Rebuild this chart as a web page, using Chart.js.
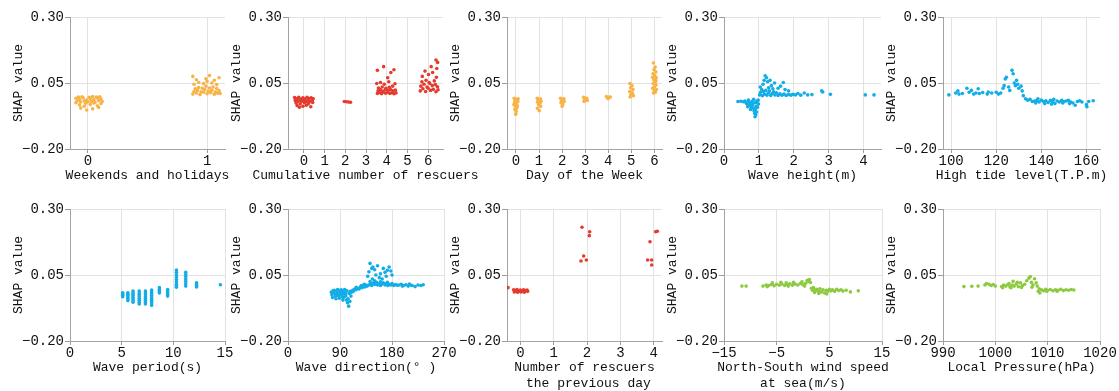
<!DOCTYPE html>
<html lang="en">
<head>
<meta charset="UTF-8">
<title>SHAP dependence plots</title>
<script src="https://cdn.jsdelivr.net/npm/chart.js"></script>
<style>
  body { margin: 0; background: #fff; }
  #wrap { position: relative; width: 1119px; height: 391px; overflow: hidden; }
  #wrap canvas { position: absolute; }
</style>
</head>
<body>
<div id="wrap"></div>
<script>
// points as [feature value, SHAP value]
const weekendPts = [
  [-0.10,-0.008],[-0.07,-0.012],[-0.04,-0.006],[-0.01,-0.015],[0.02,-0.009],[0.05,-0.013],[0.08,-0.007],[0.11,-0.011],
  [-0.09,-0.018],[-0.06,-0.022],[-0.03,-0.017],[0.00,-0.021],[0.03,-0.019],[0.06,-0.023],[0.09,-0.016],[0.12,-0.020],
  [-0.08,-0.003],[-0.05,-0.002],[0.01,-0.004],[0.04,-0.001],[0.07,-0.003],[0.10,-0.002],
  [-0.10,-0.025],[-0.02,-0.027],[0.05,-0.026],[0.11,-0.028],
  [-0.07,-0.033],[-0.03,-0.038],[0.02,-0.031],[0.08,-0.036],[-0.06,-0.045],[0.04,-0.048],[-0.01,-0.052],[0.09,-0.043],
  [0.88,0.008],[0.91,0.012],[0.94,0.006],[0.97,0.015],[1.00,0.009],[1.03,0.013],[1.06,0.007],[1.09,0.011],[1.11,0.010],
  [0.89,0.018],[0.92,0.022],[0.95,0.017],[0.98,0.025],[1.01,0.019],[1.04,0.023],[1.07,0.016],[1.10,0.021],
  [0.90,0.028],[0.93,0.033],[0.96,0.030],[0.99,0.038],[1.02,0.031],[1.05,0.035],[1.08,0.029],
  [0.89,0.045],[0.93,0.052],[0.97,0.048],[1.00,0.056],[1.04,0.050],[1.08,0.044],[0.91,0.062],[0.99,0.066],
  [1.06,0.060],[0.88,0.075],[1.02,0.078],[1.10,0.070]
];
const cumRescuePts = [
  [-0.45,-0.005],[-0.35,-0.010],[-0.25,-0.004],[-0.15,-0.012],[-0.05,-0.006],[0.05,-0.011],[0.15,-0.004],[0.25,-0.009],[0.35,-0.006],[0.45,-0.010],
  [-0.42,-0.016],[-0.30,-0.020],[-0.20,-0.015],[-0.10,-0.019],[0.00,-0.016],[0.10,-0.021],[0.20,-0.015],[0.30,-0.019],[0.40,-0.017],
  [-0.38,-0.026],[-0.18,-0.029],[0.02,-0.025],[0.22,-0.028],[0.42,-0.024],
  [-0.33,-0.035],[-0.05,-0.038],[0.12,-0.034],[0.33,-0.040],[-0.22,-0.042],
  [1.95,-0.020],[2.05,-0.021],[2.15,-0.022],[2.25,-0.023],
  [3.55,0.010],[3.65,0.014],[3.75,0.009],[3.85,0.016],[3.95,0.011],[4.05,0.015],[4.15,0.010],[4.25,0.013],[4.35,0.009],[4.45,0.012],
  [3.58,0.020],[3.70,0.024],[3.82,0.019],[3.94,0.026],[4.06,0.021],[4.18,0.025],[4.30,0.020],[4.42,0.023],
  [3.60,0.031],[3.78,0.035],[3.96,0.030],[4.12,0.034],[4.28,0.038],
  [3.52,0.048],[3.70,0.052],[3.88,0.045],[4.10,0.055],[4.40,0.047],
  [3.55,0.098],[3.85,0.112],[4.20,0.090],[4.35,0.100],[4.05,0.070],
  [5.62,0.020],[5.75,0.028],[5.88,0.018],[6.00,0.030],[6.12,0.022],[6.25,0.026],[6.38,0.017],[6.48,0.024],
  [5.65,0.038],[5.80,0.045],[5.95,0.035],[6.08,0.048],[6.20,0.040],[6.35,0.044],[6.45,0.036],
  [5.70,0.055],[5.90,0.060],[6.05,0.052],[6.30,0.058],
  [5.72,0.075],[6.02,0.082],[6.22,0.090],[6.40,0.072],[5.85,0.095],[6.42,0.105],[6.15,0.112],[6.46,0.128],[6.38,0.137]
];
const dayPts = [
  [-0.08,-0.008],[0.05,-0.012],[-0.03,-0.016],[0.08,-0.020],[-0.06,-0.024],[0.02,-0.028],[-0.09,-0.032],[0.06,-0.036],
  [-0.02,-0.040],[0.04,-0.045],[-0.05,-0.050],[0.01,-0.058],[-0.01,-0.068],[0.09,-0.010],[-0.04,-0.018],
  [0.92,-0.008],[1.06,-0.011],[0.96,-0.015],[1.09,-0.019],[0.94,-0.023],[1.03,-0.027],[0.98,-0.032],[1.07,-0.038],
  [0.93,-0.046],[1.01,-0.055],[1.05,-0.012],
  [1.93,-0.008],[2.06,-0.012],[1.97,-0.016],[2.09,-0.020],[1.95,-0.025],[2.03,-0.030],[2.00,-0.038],[2.07,-0.010],
  [2.93,-0.004],[3.06,-0.008],[2.97,-0.012],[3.09,-0.016],[2.95,-0.020],[3.03,-0.010],
  [3.92,-0.001],[4.04,-0.004],[3.97,-0.007],[4.09,-0.003],[4.00,-0.009],
  [4.94,0.048],[5.03,0.040],[4.97,0.032],[5.07,0.025],[4.93,0.018],[5.05,0.012],[4.98,0.006],[5.09,0.002],[4.95,-0.003],[5.02,0.010],
  [5.96,0.126],[6.03,0.110],[5.98,0.100],[6.06,0.092],[5.94,0.085],[6.02,0.078],[6.08,0.070],[5.97,0.062],[6.05,0.055],
  [5.95,0.048],[6.07,0.042],[6.00,0.036],[5.93,0.030],[6.09,0.025],[5.99,0.020],[6.04,0.015],[5.96,0.012],[6.06,0.060],[5.92,0.072]
];
const waveHeightPts = [
  [0.40,-0.020],[0.48,-0.019],[0.55,-0.021],[0.60,-0.018],[0.63,-0.025],[0.66,-0.030],[0.70,-0.022],[0.72,-0.035],
  [0.75,-0.028],[0.78,-0.040],[0.80,-0.020],[0.82,-0.032],[0.84,-0.045],[0.86,-0.055],[0.88,-0.065],[0.89,-0.078],
  [0.90,-0.050],[0.92,-0.038],[0.93,-0.060],[0.95,-0.025],[0.96,-0.042],[0.98,-0.015],[0.99,-0.030],[0.70,-0.015],
  [0.85,-0.012],[0.94,-0.018],[0.88,-0.025],[0.76,-0.050],[0.68,-0.040],[0.91,-0.070],
  [1.02,0.005],[1.05,0.015],[1.08,0.025],[1.10,0.002],[1.13,0.018],[1.16,0.008],[1.20,0.022],[1.23,0.004],[1.27,0.012],
  [1.30,0.020],[1.34,0.003],[1.38,0.010],[1.42,0.017],[1.46,0.005],[1.50,0.013],[1.55,0.003],[1.60,0.009],[1.66,0.004],
  [1.72,0.008],[1.78,0.003],[1.85,0.006],[1.92,0.004],[1.98,0.007],
  [1.04,0.035],[1.12,0.045],[1.18,0.077],[1.22,0.070],[1.25,0.055],[1.32,0.060],[1.36,0.040],[1.45,0.050],[1.55,0.030],
  [1.62,0.038],[1.70,0.052],[1.75,0.025],[1.85,0.020],[1.28,0.032],[1.40,0.028],[1.15,0.060],
  [2.05,0.005],[2.12,0.010],[2.20,0.004],[2.30,0.012],[2.40,0.005],[2.52,0.006],[2.80,0.020],[2.83,0.016],[3.05,0.007],
  [4.05,0.005],[4.30,0.005]
];
const tidePts = [
  [99,0.005],[102,0.012],[103,0.020],[103.5,0.008],[105,0.010],[107,0.030],[108,0.015],[109,0.022],[110,0.008],[111,0.012],
  [112,0.028],[112.5,0.010],[114,0.014],[116,0.008],[116.5,0.016],[118,0.012],[120,0.015],[121,0.008],[122,0.012],[123,0.030],
  [123.5,0.040],[124,0.065],[124.5,0.072],[125.5,0.035],[126,0.022],[127,0.098],[127.5,0.085],[128,0.050],[128.5,0.040],
  [129,0.060],[129.5,0.045],[130,0.030],[131,0.038],[131.5,0.020],[132,0.002],[133,-0.010],[134,-0.015],[135,-0.012],
  [136,-0.020],[137,-0.018],[138,-0.016],[139,-0.022],[140,-0.015],[141,-0.020],[142,-0.017],[143,-0.024],[144,-0.016],
  [145,-0.020],[146,-0.028],[147,-0.018],[148,-0.022],[149,-0.016],[150,-0.020],[151,-0.018],[152,-0.016],[153,-0.022],
  [154,-0.026],[155,-0.034],[156,-0.020],[157,-0.017],[158,-0.022],[160,-0.032],[160.2,-0.040],[161,-0.020],[163,-0.017],
  [137.5,-0.026],[141.5,-0.028],[145.5,-0.012],[149.5,-0.026],[152.5,-0.028],[138.5,-0.010],[144.5,-0.030]
];
const periodPts = [
  [5.1,-0.017],[5.1,-0.022],[5.1,-0.027],[5.1,-0.032],
  [5.6,-0.017],[5.6,-0.023],[5.6,-0.029],[5.6,-0.035],[5.6,-0.041],[5.6,-0.047],
  [6.1,-0.011],[6.1,-0.017],[6.1,-0.023],[6.1,-0.029],[6.1,-0.035],[6.1,-0.041],[6.1,-0.047],[6.1,-0.053],
  [6.7,-0.011],[6.7,-0.018],[6.7,-0.025],[6.7,-0.032],[6.7,-0.039],[6.7,-0.046],[6.7,-0.053],[6.7,-0.060],
  [7.3,-0.011],[7.3,-0.018],[7.3,-0.025],[7.3,-0.032],[7.3,-0.039],[7.3,-0.046],[7.3,-0.053],[7.3,-0.060],
  [7.9,-0.007],[7.9,-0.014],[7.9,-0.021],[7.9,-0.028],[7.9,-0.035],[7.9,-0.042],[7.9,-0.049],[7.9,-0.056],[7.9,-0.065],
  [8.65,0.002],[8.65,-0.005],[8.65,-0.012],[8.65,-0.018],
  [9.45,-0.005],[9.45,-0.011],[9.45,-0.017],[9.45,-0.024],[9.45,-0.030],
  [10.3,0.069],[10.3,0.060],[10.3,0.051],[10.3,0.042],[10.3,0.033],[10.3,0.024],[10.3,0.015],[10.3,0.008],[10.3,0.004],
  [11.2,0.060],[11.2,0.052],[11.2,0.044],[11.2,0.035],[11.2,0.026],[11.2,0.017],[11.2,0.008],
  [12.25,0.020],[12.25,0.014],[12.25,0.008],[12.25,0.005],
  [14.55,0.013]
];
const directionPts = [
  [75,-0.015],[76,-0.025],[78,-0.010],[80,-0.020],[82,-0.030],[84,-0.012],[85,-0.022],[87,-0.018],[88,-0.028],[90,-0.010],
  [91,-0.024],[93,-0.016],[94,-0.032],[96,-0.012],[97,-0.022],[99,-0.018],[100,-0.030],[101,-0.045],[103,-0.055],[104,-0.040],
  [105,-0.068],[106,-0.020],[108,-0.012],[109,-0.030],[77,-0.035],[80,-0.008],[83,-0.040],[86,-0.005],[89,-0.038],[92,-0.006],
  [95,-0.045],[98,-0.005],[102,-0.010],[107,-0.050],[110,-0.015],[79,-0.017],[86,-0.027],[93,-0.024],[96,-0.035],[100,-0.020],
  [112,-0.008],[115,-0.004],[118,-0.006],[120,0.000],[123,-0.003],[125,0.004],[128,0.002],[130,0.008],[133,0.005],[135,0.012],
  [137,0.008],[113,-0.012],[118,0.003],[127,0.010],[132,0.015],
  [140,0.012],[143,0.018],[145,0.010],[148,0.020],[150,0.014],[153,0.022],[155,0.012],[158,0.018],[160,0.010],[163,0.016],
  [165,0.020],[168,0.012],[170,0.018],[173,0.010],[175,0.015],[178,0.012],[180,0.018],[183,0.010],[186,0.014],[189,0.011],
  [142,0.025],[150,0.028],[160,0.024],[172,0.022],
  [138,0.045],[140,0.062],[142,0.094],[145,0.075],[147,0.080],[150,0.070],[152,0.050],[155,0.085],[158,0.040],[160,0.055],
  [165,0.075],[168,0.060],[172,0.068],[175,0.080],[178,0.065],[180,0.050],[146,0.035],[163,0.035],[170,0.045],
  [192,0.012],[196,0.015],[200,0.010],[204,0.013],[208,0.008],[212,0.012],[215,0.010],[220,0.006],[225,0.012],[230,0.010],
  [234,0.013],[198,0.008],[210,0.016]
];
const prevDayPts = [
  [-0.37,0.002],
  [-0.20,-0.006],[-0.15,-0.010],[-0.10,-0.005],[-0.05,-0.012],[0.00,-0.007],[0.05,-0.011],[0.10,-0.006],[0.15,-0.010],
  [0.20,-0.007],[-0.18,-0.014],[-0.08,-0.015],[0.02,-0.014],[0.12,-0.015],[0.22,-0.012],
  [1.85,0.231],[2.08,0.214],[2.07,0.199],[1.90,0.122],[1.98,0.107],[1.82,0.103],
  [4.06,0.214],[4.11,0.216],[3.89,0.176],[3.82,0.107],[3.94,0.107],[3.94,0.088]
];
const windPts = [
  [-11.6,0.008],[-10.8,0.008],[-7.6,0.008],[-7.0,0.012],[-6.5,0.010],[-6.0,0.014],[-5.5,0.009],[-5.0,0.015],[-4.5,0.011],
  [-4.0,0.016],[-3.5,0.010],[-3.0,0.014],[-2.5,0.017],[-2.0,0.011],[-1.5,0.016],[-1.0,0.012],[-0.5,0.018],[0.0,0.013],
  [0.5,0.019],[0.8,0.030],[1.0,0.026],[1.2,0.033],[1.4,0.022],[-5.8,0.020],[-4.2,0.022],[-2.8,0.008],[-1.8,0.022],
  [-0.2,0.024],[-6.8,0.006],[-3.2,0.020],[0.3,0.008],
  [1.6,0.000],[1.8,-0.008],[2.0,0.002],[2.3,-0.010],[2.6,-0.004],[2.9,-0.012],[3.2,-0.002],[3.5,-0.014],[3.8,-0.006],
  [4.1,-0.018],[4.4,-0.008],[4.7,-0.012],[5.0,-0.004],[5.3,-0.010],[5.6,-0.006],[6.0,-0.012],[6.4,-0.004],[6.8,-0.009],
  [7.2,-0.006],[7.6,-0.011],[8.2,-0.008],[9.0,-0.014],[10.5,-0.010],[3.0,-0.020],[4.5,-0.022],[2.2,-0.016]
];
const pressurePts = [
  [994,0.006],[995.5,0.007],[996.7,0.008],[998,0.012],[998.3,0.018],[998.8,0.015],[999.2,0.010],[999.6,0.014],[1000,0.008],
  [1001.2,0.006],[1001.6,0.012],[1002,0.008],[1002.4,0.014],[1002.8,0.005],[1003.2,0.012],[1003.4,0.026],[1003.6,0.008],
  [1004,0.016],[1004.4,0.006],[1004.8,0.020],[1005.2,0.010],[1005.6,0.015],[1006,0.028],[1006.4,0.038],[1006.7,0.044],
  [1006.9,0.022],[1007.2,0.012],[1007.5,0.036],[1007.8,0.020],[1008,0.008],[1008.2,-0.012],[1008.5,-0.018],[1008.8,-0.006],
  [1009.2,-0.010],[1009.6,-0.004],[1010,-0.008],[1010.5,-0.005],[1011,-0.010],[1011.5,-0.006],[1012,-0.008],[1012.5,-0.004],
  [1013,-0.009],[1013.5,-0.006],[1014,-0.008],[1014.5,-0.005],[1015,-0.007],[1001.4,0.002],[1003,0.002],[1005,0.003],
  [1007,0.004],[1004.2,0.022],[1002.6,0.018],[1008.4,-0.002],[1009.8,-0.012],[1011.8,-0.012]
];

const ORANGE = '#f8b347';
const RED = '#e43b2f';
const BLUE = '#12ade6';
const GREEN = '#8dca42';
const TEXT = '#111';
const FONT_FAMILY = '"Liberation Mono", "DejaVu Sans Mono", monospace';

const panels = [
  { pts: weekendPts, color: ORANGE, title: ['Weekends and holidays'], min: -0.15, max: 1.15, step: 1, axisX: 70, plotW: 155, row: 0 },
  { pts: cumRescuePts, color: RED, title: ['Cumulative number of rescuers'], min: -0.77, max: 6.72, step: 1, axisX: 288, plotW: 155, row: 0 },
  { pts: dayPts, color: ORANGE, title: ['Day of the Week'], min: -0.39, max: 6.33, step: 1, axisX: 507, plotW: 155, row: 0 },
  { pts: waveHeightPts, color: BLUE, title: ['Wave height(m)'], min: 0, max: 4.5, step: 1, axisX: 724, plotW: 157, row: 0 },
  { pts: tidePts, color: BLUE, title: ['High tide level(T.P.m)'], min: 96.4, max: 166, step: 20, axisX: 943, plotW: 157, row: 0 },
  { pts: periodPts, color: BLUE, title: ['Wave period(s)'], min: 0, max: 15, step: 5, axisX: 70, plotW: 155, row: 1 },
  { pts: directionPts, color: BLUE, title: ['Wave direction(\u00b0 )'], min: 0, max: 270, step: 90, axisX: 288, plotW: 156, row: 1 },
  { pts: prevDayPts, color: RED, title: ['Number of rescuers', ' the previous day'], min: -0.4, max: 4.25, step: 1, axisX: 507, plotW: 155, row: 1 },
  { pts: windPts, color: GREEN, title: ['North-South wind speed', 'at sea(m/s)'], min: -15, max: 15, step: 10, axisX: 724, plotW: 158, row: 1 },
  { pts: pressurePts, color: GREEN, title: ['Local Pressure(hPa)'], min: 990, max: 1020, step: 10, axisX: 943, plotW: 157, row: 1 }
];

// row layout: canvas top, canvas height, x-axis box height
const rows = [
  { top: 7, height: 177, xH: 35 },
  { top: 199, height: 192, xH: 50 }
];

const Y_W = 68;
const PAD_R = 44;

function minusFmt(v, digits) {
  const s = digits == null ? String(Math.abs(v)) : Math.abs(v).toFixed(digits);
  return (v < 0 ? '\u2212' : '') + s;
}

// x-axis title drawn without the scale's maxWidth squeeze
const xTitlePlugin = {
  id: 'xTitle',
  afterDraw(chart, args, opts) {
    const { ctx, chartArea } = chart;
    ctx.save();
    ctx.font = '13px ' + FONT_FAMILY;
    ctx.fillStyle = TEXT;
    ctx.textAlign = 'center';
    ctx.textBaseline = 'middle';
    const cx = (chartArea.left + chartArea.right) / 2;
    opts.lines.forEach((t, i) => ctx.fillText(t, cx, chartArea.bottom + 27 + i * 16));
    ctx.restore();
  }
};

const wrap = document.getElementById('wrap');
const tickFont = { family: FONT_FAMILY, size: 14 };
const titleFont = { family: FONT_FAMILY, size: 13 };

panels.forEach(p => {
  const r = rows[p.row];
  const canvas = document.createElement('canvas');
  canvas.width = Y_W + p.plotW + PAD_R;
  canvas.height = r.height;
  canvas.style.left = (p.axisX - Y_W) + 'px';
  canvas.style.top = r.top + 'px';
  wrap.appendChild(canvas);

  new Chart(canvas, {
    type: 'scatter',
    data: {
      datasets: [{
        data: p.pts.map(([x, y]) => ({ x, y })),
        pointBackgroundColor: p.color,
        pointBorderWidth: 0,
        pointRadius: 1.8
      }]
    },
    options: {
      responsive: false,
      animation: false,
      events: [],
      layout: { padding: { top: 10, right: PAD_R, left: 0, bottom: 0 } },
      plugins: {
        legend: { display: false },
        tooltip: { enabled: false },
        xTitle: { lines: p.title }
      },
      scales: {
        x: {
          type: 'linear',
          min: p.min,
          max: p.max,
          afterFit: s => { s.height = r.xH; },
          ticks: {
            stepSize: p.step,
            includeBounds: false,
            autoSkip: false,
            maxRotation: 0,
            padding: 0,
            color: TEXT,
            font: tickFont,
            callback: v => minusFmt(v)
          },
          grid: { color: '#e2e2e2', tickColor: '#9c9c9c', tickLength: 4 },
          border: { color: '#a3a3a3' }
        },
        y: {
          min: -0.2,
          max: 0.3,
          afterFit: s => { s.width = Y_W; },
          ticks: {
            stepSize: 0.25,
            padding: 1,
            color: TEXT,
            font: tickFont,
            callback: v => minusFmt(v, 2)
          },
          grid: { color: '#e2e2e2', tickColor: '#9c9c9c', tickLength: 5 },
          border: { color: '#a3a3a3' },
          title: {
            display: true,
            text: 'SHAP value',
            color: TEXT,
            font: titleFont,
            padding: { top: 9, bottom: 0 }
          }
        }
      }
    },
    plugins: [xTitlePlugin]
  });
});
</script>
</body>
</html>
